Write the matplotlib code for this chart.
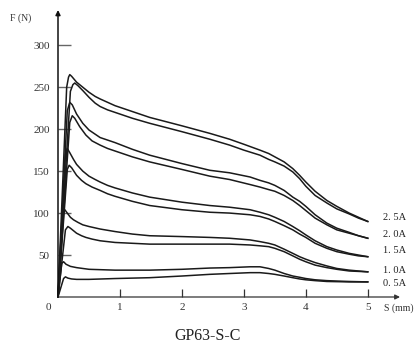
import matplotlib
matplotlib.use("Agg")
import matplotlib.pyplot as plt

plt.rcParams['font.family'] = ['Liberation Serif', 'DejaVu Serif']

# stroke s (mm) and force F (N), two traces per current
s_25_hi = [0, 0.14, 0.17, 0.19, 0.22, 0.3, 0.4, 0.5, 0.6, 0.68, 0.8, 0.92, 1.2, 1.48, 2.0, 2.45, 2.77, 3.0, 3.26, 3.4, 3.5, 3.65, 3.79, 3.9, 4.0, 4.15, 4.34, 4.5, 4.7, 4.85, 5.0]
f_25_hi = [0, 250, 262, 265, 263, 256, 250, 244, 239, 236, 232, 228, 221, 214, 204, 195, 188, 182, 175, 171, 167, 161, 153, 145, 137, 126, 115, 108, 100, 95, 90]
s_25_lo = [0, 0.2, 0.24, 0.27, 0.32, 0.4, 0.5, 0.6, 0.68, 0.8, 0.92, 1.2, 1.48, 2.0, 2.45, 2.77, 3.0, 3.26, 3.4, 3.5, 3.65, 3.79, 3.9, 4.0, 4.15, 4.34, 4.5, 4.7, 4.85, 5.0]
f_25_lo = [0, 245, 253, 255, 252, 246, 238, 231, 227, 223, 220, 213, 207, 197, 188, 181, 175, 169, 164, 161, 156, 149, 141, 132, 121, 112, 105, 99, 94, 90]

s_20_hi = [0, 0.15, 0.19, 0.23, 0.3, 0.4, 0.5, 0.6, 0.68, 0.8, 0.92, 1.2, 1.48, 2.0, 2.45, 2.77, 3.1, 3.26, 3.4, 3.5, 3.65, 3.79, 3.9, 4.0, 4.15, 4.34, 4.5, 4.7, 4.85, 5.0]
f_20_hi = [0, 222, 232, 229, 218, 207, 199, 194, 190, 187, 184, 176, 169, 159, 151, 148, 143, 139, 136, 133, 127, 119, 114, 108, 98, 88, 82, 77, 73, 70]
s_20_lo = [0, 0.19, 0.23, 0.27, 0.35, 0.45, 0.55, 0.68, 0.8, 0.92, 1.2, 1.48, 2.0, 2.45, 2.77, 3.1, 3.26, 3.4, 3.5, 3.65, 3.79, 3.9, 4.0, 4.15, 4.34, 4.5, 4.7, 4.85, 5.0]
f_20_lo = [0, 208, 216, 213, 203, 193, 186, 181, 177, 174, 167, 161, 152, 144, 140, 134, 131, 128, 126, 121, 115, 109, 103, 94, 86, 80, 76, 73, 70]

s_15_hi = [0, 0.12, 0.15, 0.19, 0.25, 0.3, 0.4, 0.5, 0.6, 0.68, 0.8, 0.92, 1.2, 1.48, 2.0, 2.45, 2.77, 3.1, 3.26, 3.4, 3.5, 3.65, 3.79, 3.9, 4.0, 4.15, 4.34, 4.5, 4.7, 4.85, 5.0]
f_15_hi = [0, 170, 177, 172, 164, 158, 150, 144, 140, 137, 133, 130, 124, 119, 113, 109, 107, 104, 101, 98, 95, 90, 84, 79, 74, 67, 60, 56, 52, 50, 48]
s_15_lo = [0, 0.15, 0.18, 0.22, 0.3, 0.38, 0.45, 0.55, 0.68, 0.8, 0.92, 1.2, 1.48, 2.0, 2.45, 2.77, 3.1, 3.26, 3.4, 3.5, 3.65, 3.79, 3.9, 4.0, 4.15, 4.34, 4.5, 4.7, 4.85, 5.0]
f_15_lo = [0, 152, 157, 154, 145, 139, 135, 131, 127, 123, 120, 114, 109, 104, 101, 100, 98, 96, 93, 90, 85, 80, 75, 71, 64, 58, 54, 51, 49, 48]

s_10_hi = [0, 0.08, 0.11, 0.15, 0.2, 0.25, 0.32, 0.4, 0.5, 0.68, 0.92, 1.2, 1.48, 2.0, 2.45, 2.77, 3.1, 3.26, 3.4, 3.5, 3.65, 3.79, 3.9, 4.0, 4.15, 4.34, 4.5, 4.7, 4.85, 5.0]
f_10_hi = [0, 100, 104, 100, 95, 92, 89, 86, 84, 81, 78, 75, 73, 72, 71, 70, 68, 66, 64, 62, 57, 52, 48, 45, 41, 37, 34, 32, 31, 30]
s_10_lo = [0, 0.12, 0.16, 0.2, 0.25, 0.3, 0.38, 0.45, 0.55, 0.68, 0.92, 1.2, 1.48, 2.0, 2.45, 2.77, 3.1, 3.26, 3.4, 3.5, 3.65, 3.79, 3.9, 4.0, 4.15, 4.34, 4.5, 4.7, 4.85, 5.0]
f_10_lo = [0, 80, 84, 82, 79, 76, 73, 71, 69, 67, 65, 64, 63, 63, 63, 63, 62, 61, 60, 58, 54, 49, 45, 42, 38, 35, 33, 31, 30.5, 30]

s_05_hi = [0, 0.06, 0.09, 0.13, 0.2, 0.3, 0.5, 0.92, 1.48, 2.0, 2.45, 2.77, 3.1, 3.26, 3.4, 3.5, 3.65, 3.79, 3.9, 4.0, 4.15, 4.34, 4.5, 4.7, 5.0]
f_05_hi = [0, 40, 42, 39, 36.5, 35, 33, 32, 32, 33, 34.5, 35, 36, 36, 34, 32, 28, 25, 23.5, 22, 20.5, 19.5, 19, 18.5, 18]
s_05_lo = [0, 0.09, 0.12, 0.16, 0.22, 0.3, 0.5, 0.92, 1.48, 2.0, 2.45, 2.77, 3.1, 3.26, 3.4, 3.5, 3.65, 3.79, 3.9, 4.0, 4.15, 4.34, 4.7, 5.0]
f_05_lo = [0, 22, 24, 22.5, 21.5, 21, 21, 22, 23, 25, 27, 28, 29, 29, 28, 27, 25, 23, 21.5, 20.5, 19.5, 18.5, 18, 18]

curve_labels = ['2. 5A', '2. 0A', '1. 5A', '1. 0A', '0. 5A']
label_y = [95, 74, 55, 31, 16]
yticks = [50, 100, 150, 200, 250, 300]
xticks = [1, 2, 3, 4, 5]

fig = plt.figure(figsize=(4.2, 3.6), dpi=100)
ax = fig.add_axes([58/420, 63/360, 342/420, 287/360])
ax.set_xlim(0, 5.52)
ax.set_ylim(0, 342)

pairs = [(s_25_hi, f_25_hi), (s_25_lo, f_25_lo), (s_20_hi, f_20_hi), (s_20_lo, f_20_lo),
         (s_15_hi, f_15_hi), (s_15_lo, f_15_lo), (s_10_hi, f_10_hi), (s_10_lo, f_10_lo),
         (s_05_hi, f_05_hi), (s_05_lo, f_05_lo)]
for s, f in pairs:
    ax.plot(s, f, color='#1a1a1a', lw=1.1, solid_joinstyle='round', clip_on=False)

for lab, y in zip(curve_labels, label_y):
    ax.text(5.24, y, lab, fontsize=7.5, va='center', ha='left', color='#222')

for sp in ax.spines.values():
    sp.set_visible(False)
ax.annotate('', xy=(1, 0), xytext=(0, 0), xycoords='axes fraction',
            arrowprops=dict(arrowstyle='-|>', color='#333', lw=0.9, mutation_scale=7, shrinkA=0, shrinkB=0))
ax.annotate('', xy=(0, 1), xytext=(0, 0), xycoords='axes fraction',
            arrowprops=dict(arrowstyle='-|>', color='#111', lw=1.1, mutation_scale=7, shrinkA=0, shrinkB=0))

ax.set_yticks(yticks)
ax.set_xticks(xticks)
ax.tick_params(axis='y', direction='in', length=9.5, width=1.0, color='#666', pad=6,
               labelsize=8, labelcolor='#333')
ax.tick_params(axis='x', direction='in', length=5.8, width=0.9, color='#333', pad=4,
               labelsize=8, labelcolor='#333')

fig.text(48/420, 1 - 307/360, '0', ha='center', va='center', fontsize=8, color='#333')
fig.text(10/420, 1 - 18/360, 'F (N)', ha='left', va='center', fontsize=7, color='#333')
fig.text(384/420, 1 - 308/360, 'S (mm)', ha='left', va='center', fontsize=7, color='#333')
fig.text(208/420, 1 - 336/360, 'GP63-S-C', ha='center', va='center', fontsize=11.5, color='#222')

fig.savefig('out.png', dpi=100)
